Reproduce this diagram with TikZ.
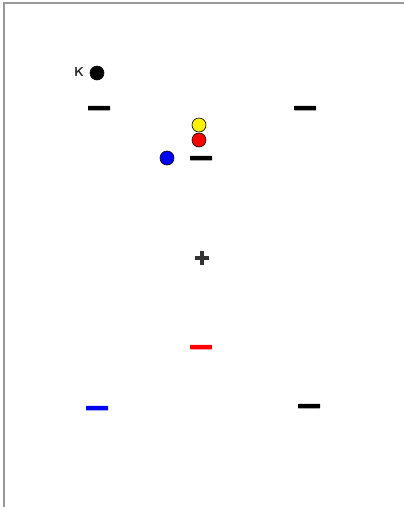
\documentclass[tikz,border=0pt]{standalone}
\begin{document}
\begin{tikzpicture}[x=1pt,y=-1pt,
  bar/.style={fill=#1,draw=none,minimum width=22pt,minimum height=4.5pt,inner sep=0pt,rounded corners=0.5pt},
  bar/.default=black,
  ball/.style={circle,fill=#1,draw=black,line width=0.6pt,minimum size=14pt,inner sep=0pt},
  plusstroke/.style={draw=black!80,line width=3.2pt},
  frameline/.style={draw=gray!80,line width=2pt}]
\useasboundingbox (0,0) rectangle (404,507);
\draw[frameline] (4,507) -- (4,3) -- (404,3);
\node[ball=black] (k) at (97,73) {};
\node[font=\fontsize{13}{13}\sffamily\bfseries,text=black!85,inner sep=0pt] (kl) at (79,72) {K};
\node[bar] (b1) at (99,108) {};
\node[bar] (b2) at (305,108) {};
\node[ball=yellow] (y) at (199,125) {};
\node[ball=red] (r) at (199,140) {};
\node[ball=blue] (bl) at (167,158) {};
\node[bar] (b3) at (201,158) {};
\node[minimum size=13pt,inner sep=0pt] (p) at (202,258) {};
\draw[plusstroke] (p.west) -- (p.east) (p.north) -- (p.south);
\node[bar=red] (rb) at (201,347) {};
\node[bar=blue] (bb) at (97,408) {};
\node[bar] (b4) at (309,406) {};
\end{tikzpicture}
\end{document}
